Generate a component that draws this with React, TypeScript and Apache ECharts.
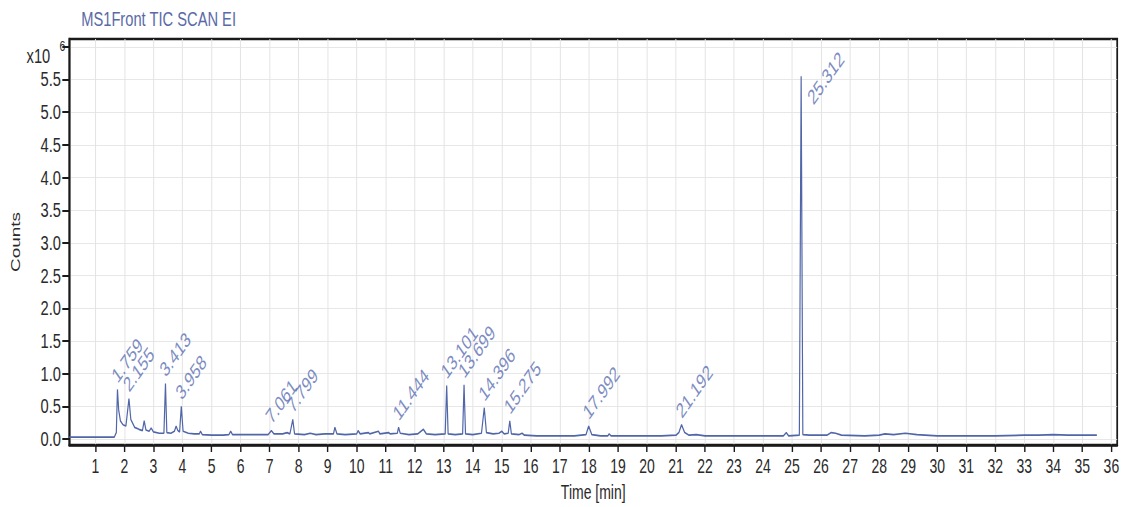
import React, { useEffect, useRef } from "react";
import * as echarts from "echarts";

// Retention time (min) and total ion counts (x10^6)
const times = [
  0.1, 1.0, 1.65, 1.72, 1.759, 1.8, 1.86, 1.95, 2.05, 2.155, 2.22, 2.35, 2.5, 2.62, 2.68, 2.74, 2.85, 2.92, 3.0,
  3.2, 3.36, 3.413, 3.46, 3.6, 3.72, 3.78, 3.84, 3.9, 3.958, 4.02, 4.2, 4.4, 4.58, 4.62, 4.68, 5.0, 5.4, 5.6,
  5.66, 5.72, 6.0, 6.3, 6.6, 6.95, 7.061, 7.15, 7.45, 7.6, 7.7, 7.799, 7.86, 8.2, 8.4, 8.6, 8.9, 9.2, 9.25,
  9.32, 9.6, 10.0, 10.05, 10.12, 10.4, 10.45, 10.75, 10.8, 11.1, 11.15, 11.4, 11.444, 11.5, 11.8, 12.1, 12.3,
  12.4, 12.7, 13.05, 13.101, 13.15, 13.4, 13.65, 13.699, 13.75, 14.0, 14.3, 14.396, 14.47, 14.7, 14.9, 15.0,
  15.08, 15.22, 15.275, 15.33, 15.6, 15.7, 15.78, 16.2, 17.0, 17.5, 17.9, 17.992, 18.1, 18.4, 18.65, 18.7,
  18.76, 19.5, 20.0, 20.5, 21.0, 21.1, 21.192, 21.3, 21.45, 21.7, 22.0, 23.0, 24.0, 24.7, 24.8, 24.88, 25.25,
  25.312, 25.37, 25.6, 26.2, 26.35, 26.5, 26.7, 27.5, 28.0, 28.2, 28.5, 28.9, 29.3, 30.0, 31.0, 32.0, 33.0,
  33.5, 34.0, 34.5, 35.0, 35.5,
];
const counts = [
  0.03, 0.03, 0.03, 0.1, 0.76, 0.45, 0.28, 0.22, 0.2, 0.62, 0.3, 0.18, 0.15, 0.13, 0.28, 0.14, 0.12, 0.17, 0.11,
  0.09, 0.09, 0.85, 0.1, 0.09, 0.12, 0.2, 0.13, 0.11, 0.5, 0.12, 0.09, 0.08, 0.08, 0.12, 0.07, 0.06, 0.06, 0.07,
  0.12, 0.07, 0.07, 0.07, 0.07, 0.07, 0.13, 0.08, 0.08, 0.1, 0.08, 0.3, 0.08, 0.07, 0.09, 0.07, 0.08, 0.08, 0.18,
  0.08, 0.07, 0.08, 0.13, 0.08, 0.1, 0.08, 0.12, 0.08, 0.1, 0.08, 0.09, 0.18, 0.09, 0.07, 0.08, 0.15,
  0.08, 0.07, 0.08, 0.82, 0.08, 0.07, 0.08, 0.83, 0.08, 0.07, 0.09, 0.48, 0.1, 0.08, 0.09, 0.12,
  0.08, 0.09, 0.28, 0.08, 0.07, 0.09, 0.06, 0.05, 0.05, 0.05, 0.07, 0.2, 0.07, 0.05, 0.05, 0.08,
  0.05, 0.05, 0.05, 0.05, 0.06, 0.1, 0.22, 0.1, 0.06, 0.07, 0.05, 0.05, 0.05, 0.05, 0.1, 0.05, 0.06,
  5.55, 0.07, 0.06, 0.06, 0.1, 0.09, 0.06, 0.05, 0.06, 0.08, 0.07, 0.09, 0.07, 0.05, 0.05, 0.05, 0.06,
  0.06, 0.07, 0.06, 0.06, 0.06,
];
const peakTimes = [1.759, 2.155, 3.413, 3.958, 7.061, 7.799, 11.444, 13.101, 13.699, 14.396, 15.275, 17.992, 21.192, 25.312];
const xTicks = [1, 2, 3, 4, 5, 6, 7, 8, 9, 10, 11, 12, 13, 14, 15, 16, 17, 18, 19, 20, 21, 22, 23, 24, 25, 26, 27, 28, 29, 30, 31, 32, 33, 34, 35, 36];
const yTicks = [0, 0.5, 1, 1.5, 2, 2.5, 3, 3.5, 4, 4.5, 5, 5.5, 6];
const yLabelTicks = [0, 0.5, 1, 1.5, 2, 2.5, 3, 3.5, 4, 4.5, 5, 5.5];

const SQUISH = 0.7;
const VIEW_W = 1123;
const VIEW_H = 507;
const CHART_W = Math.round(VIEW_W / SQUISH);
const FONT = "'Liberation Sans', Arial, sans-serif";
const DARK = "#2a2a2a";

export default function App() {
  const ref = useRef<HTMLDivElement>(null);
  useEffect(() => {
    if (!ref.current) return;
    const chart = echarts.init(ref.current, undefined, { renderer: "svg" });
    const maxVal = Math.max(...counts);
    const peakData = peakTimes.map((t) => {
      const v = counts[times.indexOf(t)];
      const item: any = { value: [t, v] };
      if (v === maxVal) item.label = { position: [20, 32] };
      return item;
    });
    chart.setOption({
      animation: false,
      textStyle: { fontFamily: FONT },
      title: {
        text: "MS1Front TIC SCAN EI",
        left: 111,
        top: 4,
        textStyle: { color: "#5a6aa6", fontSize: 21, fontWeight: "normal", fontFamily: FONT },
      },
      grid: {
        left: 99,
        right: CHART_W - 1596,
        top: 39,
        bottom: 58,
        show: true,
        borderColor: "#1a1a1a",
        borderWidth: 2.5,
        backgroundColor: "#ffffff",
      },
      graphic: [
        { type: "text", x: 38, y: 56, style: { text: "x10", fontSize: 21, fontFamily: FONT, fill: DARK, verticalAlign: "middle" } },
        { type: "text", x: 85, y: 46, style: { text: "6", fontSize: 15, fontFamily: FONT, fill: DARK, verticalAlign: "middle" } },
      ],
      xAxis: {
        type: "value",
        min: 0.1,
        max: 36.2,
        name: "Time [min]",
        nameLocation: "middle",
        nameGap: 37,
        nameTextStyle: { fontSize: 20, color: DARK, fontFamily: FONT },
        axisLine: { show: true, onZero: false, lineStyle: { color: "#1a1a1a", width: 2.5 } },
        axisTick: { show: true, customValues: xTicks, length: 7, lineStyle: { color: "#1a1a1a", width: 2 } },
        axisLabel: { customValues: xTicks, fontSize: 20, margin: 11, color: DARK, fontFamily: FONT },
        splitLine: { show: true, lineStyle: { color: "#e3e3e3", width: 1.4 } },
      },
      yAxis: {
        type: "value",
        min: -0.09,
        max: 6.12,
        name: "Counts",
        nameLocation: "middle",
        nameGap: 68,
        nameTextStyle: { fontSize: 19, color: DARK, fontFamily: FONT },
        axisLine: { show: true, onZero: false, lineStyle: { color: "#1a1a1a", width: 2.5 } },
        axisTick: { show: true, customValues: yTicks, length: 10, lineStyle: { color: "#1a1a1a", width: 2 } },
        axisLabel: {
          customValues: yLabelTicks,
          fontSize: 21,
          margin: 12,
          color: DARK,
          fontFamily: FONT,
          formatter: (v: number) => v.toFixed(1),
        },
        splitLine: { show: true, lineStyle: { color: "#e3e3e3", width: 1 } },
      },
      series: [
        {
          type: "line",
          data: times.map((t, i) => [t, counts[i]]),
          symbol: "none",
          showSymbol: false,
          lineStyle: { color: "#5166a8", width: 1.7 },
          z: 3,
        },
        {
          type: "scatter",
          data: peakData,
          symbolSize: 0,
          z: 4,
          label: {
            show: true,
            position: [3, -3],
            align: "left",
            verticalAlign: "bottom",
            rotate: 45,
            fontSize: 21,
            color: "#5a6eb2",
            fontFamily: FONT,
            formatter: (p: any) => p.value[0].toFixed(3),
          },
        },
      ],
    });
    return () => chart.dispose();
  }, []);

  return (
    <div style={{ position: "absolute", left: 0, top: 0, width: VIEW_W, height: VIEW_H, overflow: "hidden", background: "#fff" }}>
      <div
        ref={ref}
        style={{ width: CHART_W, height: VIEW_H, transform: `scaleX(${SQUISH})`, transformOrigin: "0 0" }}
      />
    </div>
  );
}
